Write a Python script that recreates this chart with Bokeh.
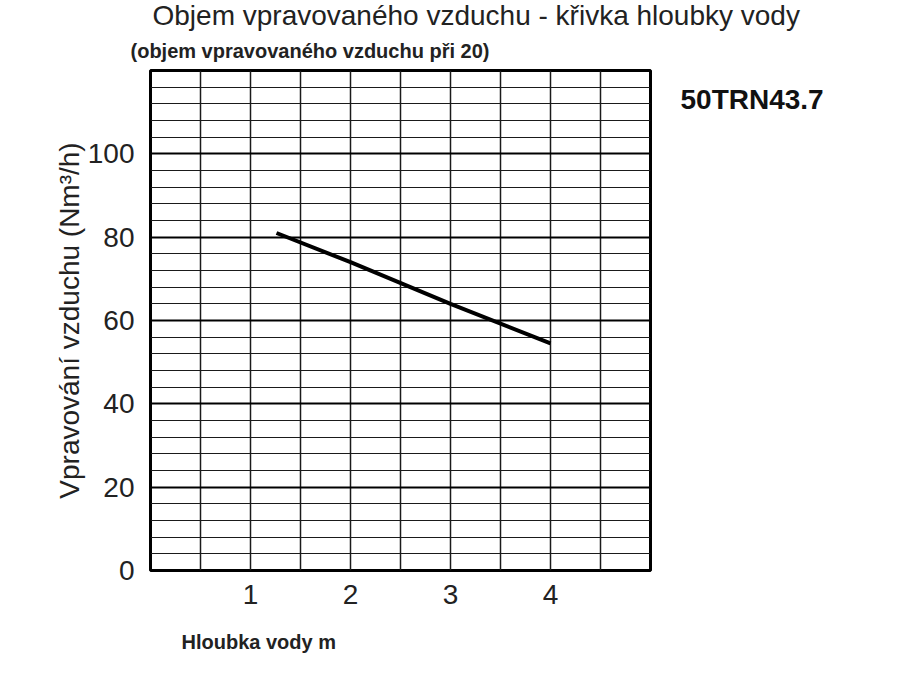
from bokeh.plotting import figure
from bokeh.models import FixedTicker, Range1d, Title, LinearAxis
from bokeh.embed import file_html
from bokeh.resources import INLINE

# Data
depth_m = [1.26, 2.0, 3.0, 4.0]
air_nm3h = [81.0, 74.0, 64.0, 54.5]
x_tick_values = [1, 2, 3, 4]
y_tick_values = [0, 20, 40, 60, 80, 100]
title_text = "Objem vpravovaného vzduchu - křivka hloubky vody"
subtitle_text = "(objem vpravovaného vzduchu při 20)"
model_text = "50TRN43.7"
x_label_text = "Hloubka vody m"
y_label_text = "Vpravování vzduchu (Nm³/h)"

FONT = "Liberation Sans"
TXT = "#222222"

XMAX, YMAX = 5.0, 120.0
W, H = 880, 680
LEFT, TOP = 150, 70
FRAME = 500

p = figure(width=W, height=H, output_backend="svg", toolbar_location=None,
           x_range=Range1d(0, XMAX), y_range=Range1d(0, YMAX),
           min_border_left=LEFT, min_border_right=W - LEFT - FRAME,
           min_border_top=TOP, min_border_bottom=H - TOP - FRAME)

p.background_fill_color = "white"
p.border_fill_color = "white"
p.outline_line_color = "black"
p.outline_line_width = 3

# titles: main title outermost, subtitle nearest the frame
p.title.text = title_text
p.title.align = "left"
p.title.offset = 2
p.title.text_font = FONT
p.title.text_font_size = "28px"
p.title.text_font_style = "normal"
p.title.text_color = TXT
p.title.standoff = -5
p.add_layout(Title(text=subtitle_text, align="left", offset=-20, text_font=FONT,
                   text_font_size="20px", text_font_style="bold",
                   text_color=TXT, standoff=18), "above")

# axes
p.xaxis.ticker = FixedTicker(ticks=x_tick_values)
p.yaxis.ticker = FixedTicker(ticks=y_tick_values)
for ax in (p.xaxis[0], p.yaxis[0]):
    ax.axis_line_color = None
    ax.major_tick_line_color = None
    ax.minor_tick_line_color = None
    ax.major_label_text_font = FONT
    ax.major_label_text_font_size = "28px"
    ax.major_label_text_color = TXT
p.xaxis.major_label_standoff = 8
p.yaxis.major_label_standoff = 10
p.yaxis.axis_label = y_label_text
p.yaxis.axis_label_text_font = FONT
p.yaxis.axis_label_text_font_style = "normal"
p.yaxis.axis_label_text_font_size = "28px"
p.yaxis.axis_label_text_color = TXT
p.yaxis.axis_label_standoff = 0

# model name on the right, as a horizontal label of a right-hand axis
model_tick = 113
right_axis = LinearAxis(ticker=FixedTicker(ticks=[model_tick]),
                        major_label_overrides={model_tick: model_text},
                        axis_line_color=None, major_tick_line_color=None,
                        minor_tick_line_color=None,
                        major_label_standoff=24,
                        major_label_orientation="horizontal",
                        major_label_text_font=FONT,
                        major_label_text_font_size="28px",
                        major_label_text_font_style="bold",
                        major_label_text_color="#111111")
p.add_layout(right_axis, "right")

# x-axis title, left-aligned below the axis
p.add_layout(Title(text=x_label_text, align="left", offset=31, text_font=FONT,
                   text_font_size="20px", text_font_style="bold",
                   text_color=TXT, standoff=44), "below")

# grids
p.xgrid.ticker = FixedTicker(ticks=[i * 0.5 for i in range(1, 10)])
p.xgrid.grid_line_color = "#1a1a1a"
p.xgrid.grid_line_width = 1.5
p.xgrid.grid_line_alpha = 1
p.ygrid.ticker = FixedTicker(ticks=[20, 40, 60, 80, 100],
                             minor_ticks=[v for v in range(4, 120, 4) if v % 20 != 0])
p.ygrid.grid_line_color = "black"
p.ygrid.grid_line_width = 2.2
p.ygrid.minor_grid_line_color = "#1a1a1a"
p.ygrid.minor_grid_line_width = 1.1

# curve
p.line(depth_m, air_nm3h, line_color="black", line_width=4)

open("out.html", "w").write(file_html(p, INLINE))
